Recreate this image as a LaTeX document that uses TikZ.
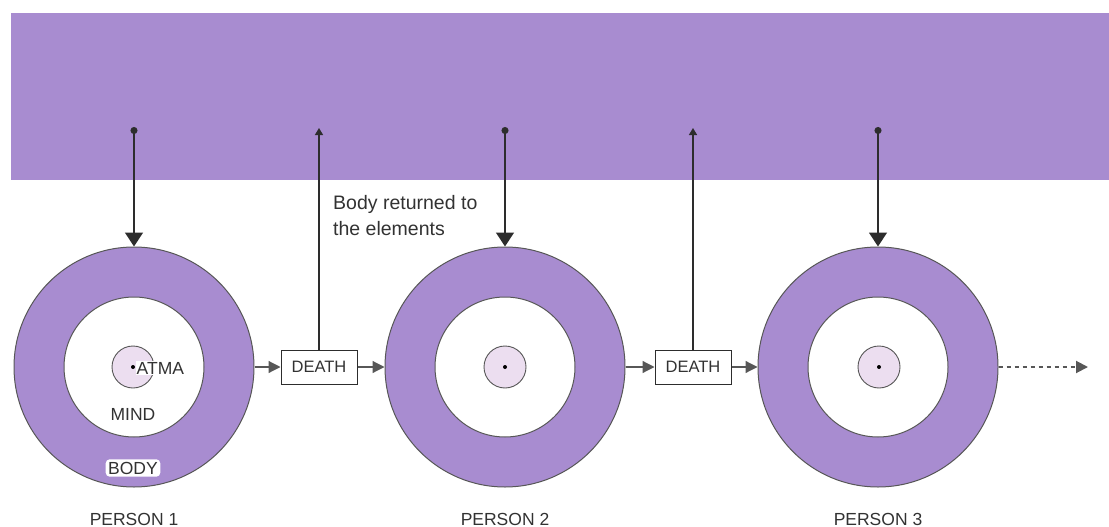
\documentclass[tikz,border=0pt]{standalone}
\usepackage{fontspec}
\setmainfont{Liberation Sans}
\usetikzlibrary{arrows.meta}
\definecolor{lav}{RGB}{168,140,208}
\definecolor{lavlight}{RGB}{236,222,240}
\definecolor{ink}{RGB}{45,45,45}
\definecolor{txt}{RGB}{50,50,50}
\begin{document}
\begin{tikzpicture}[x=1pt,y=-1pt,
  band/.style={fill=lav, draw=none, inner sep=0},
  outer/.style={circle, fill=lav, draw=ink!80, line width=1pt, minimum size=240pt, inner sep=0},
  inner/.style={circle, fill=white, draw=ink!80, line width=1pt, minimum size=140pt, inner sep=0},
  atma/.style={circle, fill=lavlight, draw=ink!80, line width=0.9pt, minimum size=42pt, inner sep=0},
  centredot/.style={circle, fill=black, inner sep=0, minimum size=4pt},
  deathbox/.style={draw=ink, line width=1pt, fill=white, minimum width=76pt, minimum height=34pt, inner sep=0, text=txt, font=\fontsize{16.5}{18}\selectfont},
  lbl/.style={text=txt, font=\fontsize{17.5}{20}\selectfont},
  downarrow/.style={draw=ink, line width=1.4pt, {Circle[length=7pt,width=7pt]}-{Triangle[width=18pt,length=14pt]}},
  uparrow/.style={draw=ink, line width=1.4pt, -{Triangle[width=8pt,length=7pt]}},
  sidearrow/.style={draw=ink!80, line width=1.2pt, -{Triangle[width=12pt,length=12pt]}},
  dotarrow/.style={draw=ink!80, line width=2pt, dash pattern=on 4pt off 4pt, -{Triangle[width=12pt,length=12pt]}}
]
\useasboundingbox (0,0) rectangle (1109,527);

% band of the elements
\node[band, minimum width=1098pt, minimum height=167pt] (band) at (560,96.5) {};

% persons
\node[outer] (p1) at (134,367) {};
\node[inner] (m1) at (134,367) {};
\node[atma] (a1) at (133,367) {};
\node[centredot] (c1) at (133,367) {};

\node[outer] (p2) at (505,367) {};
\node[inner] (m2) at (505,367) {};
\node[atma] (a2) at (505,367) {};
\node[centredot] (c2) at (505,367) {};

\node[outer] (p3) at (878,367) {};
\node[inner] (m3) at (878,367) {};
\node[atma] (a3) at (879,367) {};
\node[centredot] (c3) at (879,367) {};

% labels inside person 1
\node[lbl, fill=white, inner sep=1pt, anchor=west] (atmalbl) at (135.5,368) {ATMA};
\node[lbl] (mindlbl) at (133,414) {MIND};
\node[lbl, fill=white, rounded corners=4pt, inner sep=2.5pt] (bodylbl) at (133,468) {BODY};

% person captions
\node[lbl] (n1) at (134,519) {PERSON 1};
\node[lbl] (n2) at (505,519) {PERSON 2};
\node[lbl] (n3) at (878,519) {PERSON 3};

% death boxes
\node[deathbox] (d1) at (319,367) {DEATH};
\node[deathbox] (d2) at (693,367) {DEATH};

% body returned text
\node[text=txt, font=\fontsize{19.5}{26}\selectfont, align=left, anchor=north west, inner sep=0] (ret) at (333,195) {Body returned to\\the elements};

% arrow ends
\coordinate (s1) at (134,127);
\coordinate (s2) at (505,127);
\coordinate (s3) at (878,127);
\coordinate (u1) at (319,128);
\coordinate (u2) at (693,128);
\coordinate (end) at (1088,367);

\draw[downarrow] (s1) -- (p1.north);
\draw[downarrow] (s2) -- (p2.north);
\draw[downarrow] (s3) -- (p3.north);

\draw[uparrow] (d1.north) -- (u1);
\draw[uparrow] (d2.north) -- (u2);

\draw[sidearrow] (p1.east) -- (d1.west);
\draw[sidearrow] (d1.east) -- (p2.west);
\draw[sidearrow] (p2.east) -- (d2.west);
\draw[sidearrow] (d2.east) -- (p3.west);

\draw[dotarrow] (p3.east) -- (end);
\end{tikzpicture}
\end{document}
